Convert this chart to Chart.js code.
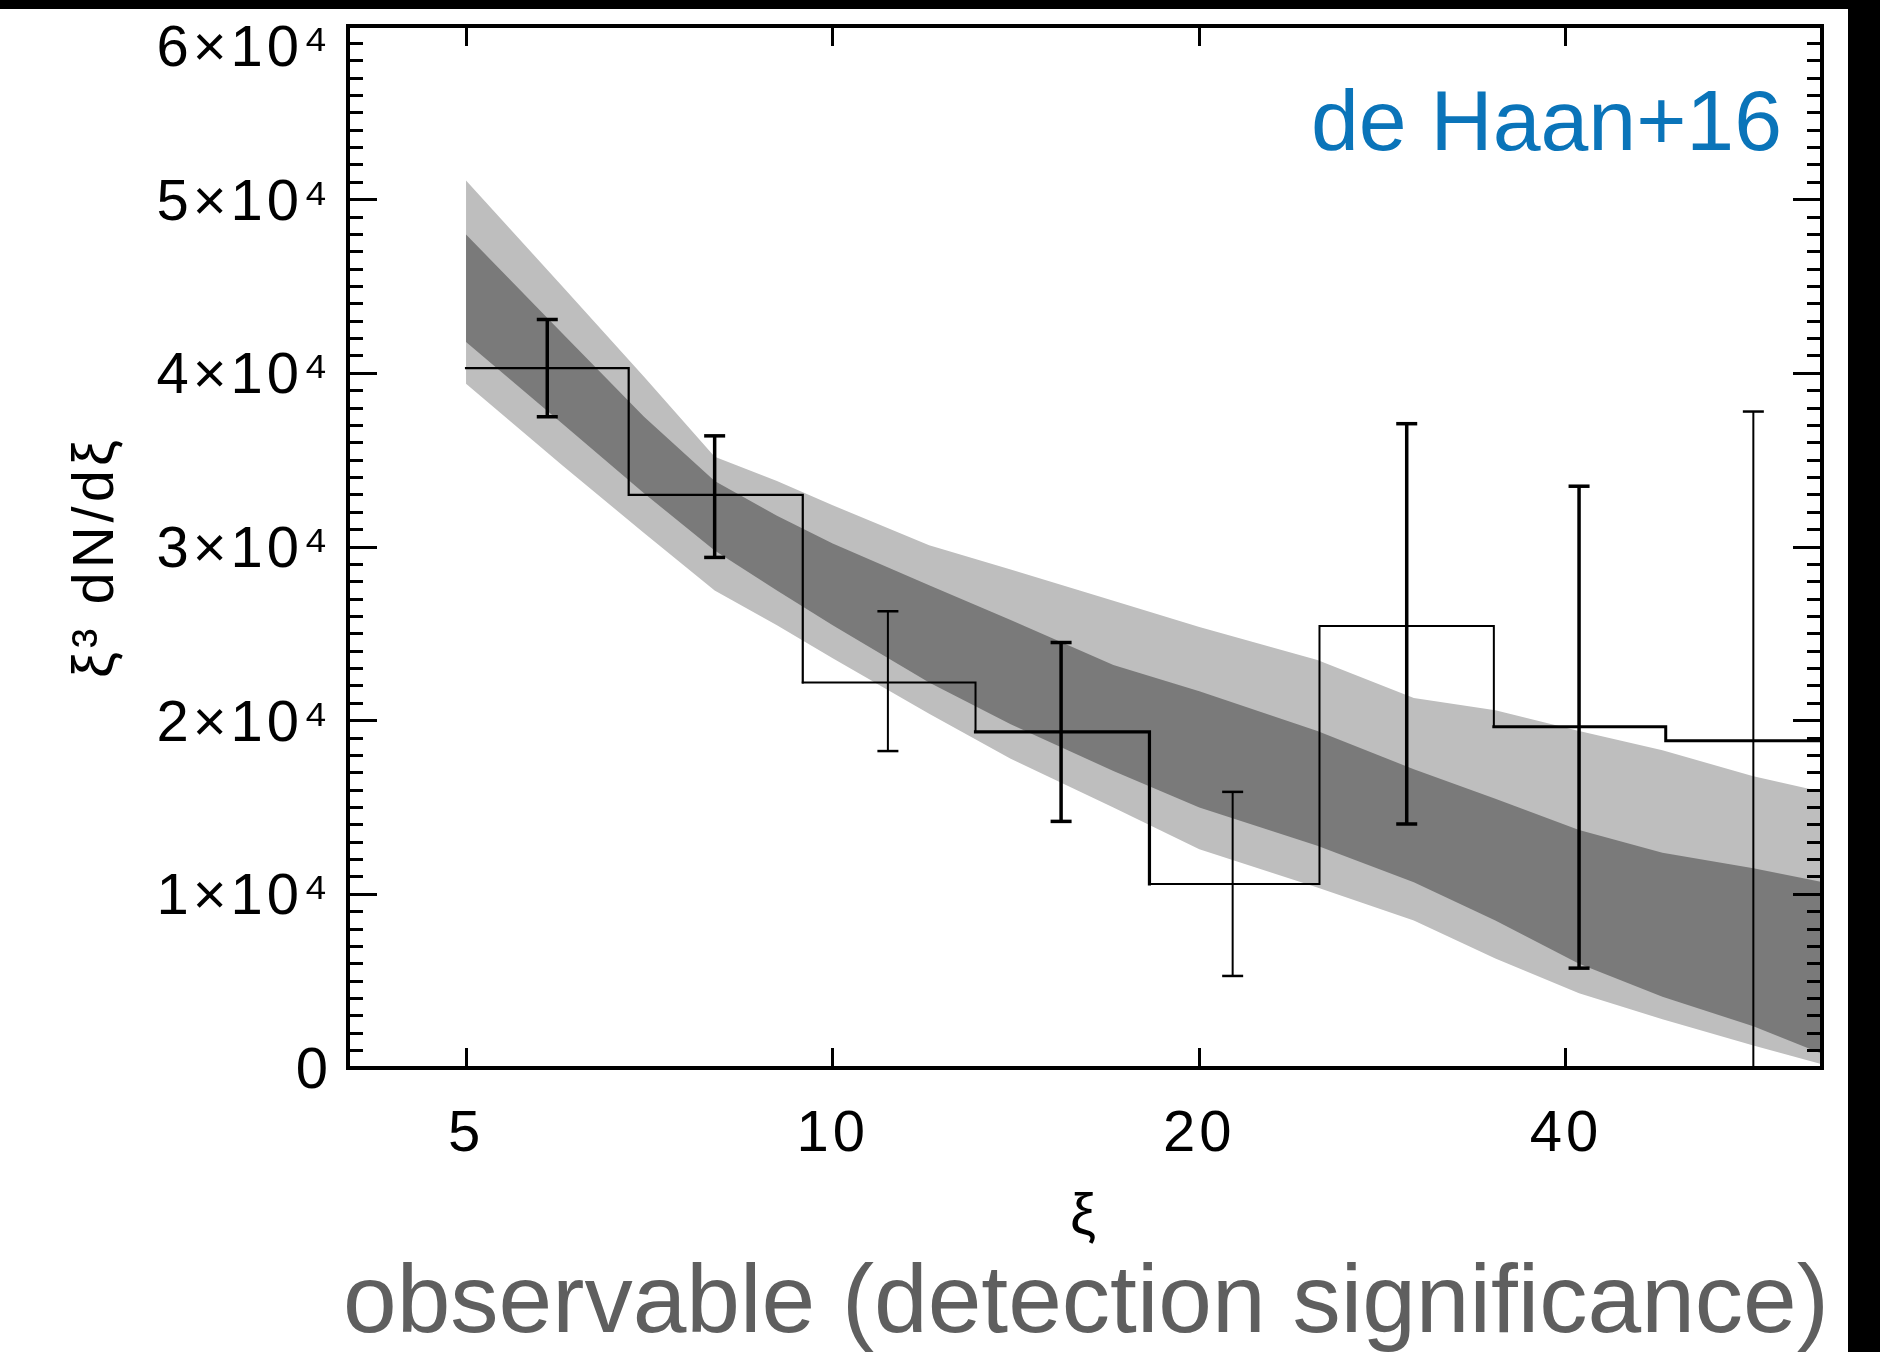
<!DOCTYPE html>
<html>
<head>
<meta charset="utf-8">
<script src="https://cdn.jsdelivr.net/npm/chart.js@4.4.1/dist/chart.umd.min.js"></script>
<style>
  html, body { margin: 0; padding: 0; background: #fff; }
  #wrap { width: 1880px; height: 1352px; }
</style>
</head>
<body>
<div id="wrap"><canvas id="xiChart" width="1880" height="1352"></canvas></div>
<script>
// histogram: bin edges in xi and measured xi^3 dN/dxi per bin
const binEdges = [5.0, 6.8, 9.45, 13.1, 18.2, 25.1, 34.9, 48.3, 66.0];
const binValues = [40300, 33000, 22200, 19350, 10600, 25450, 19650, 18850];

// error bars (one per bin)
const errXi = [5.83, 8.0, 11.1, 15.4, 21.3, 29.6, 41.0, 57.0];
const errLow = [37500, 29400, 18250, 14200, 5300, 14050, 5750, 0];
const errHigh = [43100, 36400, 26300, 24500, 15900, 37100, 33500, 37800];

// model prediction bands
const bandXi = [5, 6, 7, 8, 9, 10, 12, 14, 17, 20, 25, 30, 35, 41, 48, 57, 65];
const outerHigh = [51100, 45000, 39800, 35200, 33800, 32400, 30100, 28700, 26900, 25400, 23500, 21300, 20600, 19400, 18300, 16800, 15900];
const innerHigh = [48000, 42300, 37500, 33800, 31800, 30200, 27800, 25800, 23200, 21700, 19400, 17200, 15500, 13700, 12400, 11500, 10700];
const innerLow = [41800, 37100, 33100, 29800, 27500, 25500, 22200, 19800, 17100, 15000, 12800, 10700, 8500, 6000, 4100, 2400, 800];
const outerLow = [39400, 34700, 30800, 27500, 25500, 23600, 20400, 17800, 15000, 12600, 10400, 8500, 6300, 4300, 2800, 1300, 200];

// axis ticks
const xTicks = [5, 10, 20, 40];
const yTicks = [0, 10000, 20000, 30000, 40000, 50000, 60000];
const yMinorStep = 1000;

// line styles
const barThick = [true, true, false, true, false, true, true, false];
const stepWidths = [2.2, 2.2, 2, 3.2, 2, 2, 3, 3];

Chart.defaults.font.family = '"Liberation Sans", Arial, sans-serif';
Chart.defaults.color = '#000';

const yMinorTicks = [];
for (let v = yTicks[0]; v <= yTicks[yTicks.length - 1]; v += yMinorStep) yMinorTicks.push(v);
const yTop = yTicks[yTicks.length - 1];

const histData = binValues.map((v, i) => ({x: binEdges[i], y: v}));
histData.push({x: binEdges[binEdges.length - 1], y: binValues[binValues.length - 1]});

const errData = [];
errXi.forEach((x, i) => {
    errData.push({x: x, y: errLow[i]}, {x: x, y: errHigh[i]}, {x: x, y: null});
});

const band = arr => arr.map((v, i) => ({x: bandXi[i], y: v}));

const framePlugin = {
    id: 'frame',
    beforeDraw(chart) {
        const ctx = chart.ctx;
        ctx.save();
        ctx.fillStyle = '#fff';
        ctx.fillRect(0, 0, chart.width, chart.height);
        ctx.fillStyle = '#000';
        ctx.fillRect(0, 0, chart.width, 9);
        ctx.fillRect(1848, 0, chart.width - 1848, chart.height);
        ctx.restore();
        ctx.letterSpacing = '4px';
    },
    afterDraw(chart) {
        const ctx = chart.ctx;
        ctx.letterSpacing = '0px';
        ctx.save();
        ctx.textAlign = 'left';
        ctx.textBaseline = 'alphabetic';
        ctx.font = '86px "Liberation Sans", Arial, sans-serif';
        ctx.fillStyle = '#0a74b9';
        ctx.fillText('de Haan+16', 1311, 150);
        ctx.font = '96.5px "Liberation Sans", Arial, sans-serif';
        ctx.fillStyle = '#5f5f5f';
        ctx.fillText('observable (detection significance)', 343, 1332);
        ctx.restore();
    }
};

// fixed box sizes, no extra padding for overhanging labels
const fixWidth = w => s => { s.width = w; s.paddingTop = 0; s.paddingBottom = 0; s.paddingLeft = 0; s.paddingRight = 0; };
const fixHeight = h => s => { s.height = h; s.paddingTop = 0; s.paddingBottom = 0; s.paddingLeft = 0; s.paddingRight = 0; };

const tickGrid = len => ({drawOnChartArea: false, tickLength: len, tickWidth: 3, tickColor: '#000', z: 1});
const axisBorder = {display: true, color: '#000', width: 4, z: 2};

const config = {
    type: 'line',
    data: {
        datasets: [
            {
                label: 'errors',
                data: errData,
                order: 0,
                borderColor: '#000',
                borderWidth: 2,
                spanGaps: false,
                pointStyle: 'line',
                pointRadius: 10.5,
                pointBorderColor: '#000',
                pointBorderWidth: ctx => barThick[Math.floor(ctx.dataIndex / 3)] ? 3.5 : 2.5,
                segment: {
                    borderWidth: ctx => barThick[Math.floor(ctx.p0DataIndex / 3)] ? 3.5 : 2
                }
            },
            {
                label: 'histogram',
                data: histData,
                order: 1,
                stepped: true,
                borderColor: '#000',
                borderWidth: 2,
                borderCapStyle: 'square',
                pointRadius: 0,
                segment: {
                    borderWidth: ctx => stepWidths[ctx.p0DataIndex]
                }
            },
            {
                label: 'inner high',
                data: band(innerHigh),
                order: 2,
                borderColor: 'rgba(0,0,0,0)',
                borderWidth: 0,
                pointRadius: 0,
                backgroundColor: '#7a7a7a',
                fill: '+1'
            },
            {
                label: 'inner low',
                data: band(innerLow),
                order: 2,
                borderColor: 'rgba(0,0,0,0)',
                borderWidth: 0,
                pointRadius: 0,
                fill: false
            },
            {
                label: 'outer high',
                data: band(outerHigh),
                order: 3,
                borderColor: 'rgba(0,0,0,0)',
                borderWidth: 0,
                pointRadius: 0,
                backgroundColor: '#bebebe',
                fill: '+1'
            },
            {
                label: 'outer low',
                data: band(outerLow),
                order: 3,
                borderColor: 'rgba(0,0,0,0)',
                borderWidth: 0,
                pointRadius: 0,
                fill: false
            }
        ]
    },
    options: {
        responsive: false,
        animation: false,
        events: [],
        devicePixelRatio: 1,
        layout: {padding: 0, autoPadding: false},
        elements: {line: {tension: 0}},
        plugins: {
            legend: {display: false},
            tooltip: {enabled: false}
        },
        scales: {
            x: {
                type: 'logarithmic',
                position: 'bottom',
                min: 4.0,
                max: 64.9,
                afterBuildTicks: s => { s.ticks = xTicks.map(v => ({value: v})); },
                afterFit: fixHeight(284),
                ticks: {callback: v => String(v), font: {size: 58}, color: '#000', padding: 52, maxRotation: 0, autoSkip: false},
                grid: tickGrid(-20),
                border: axisBorder,
                title: {display: true, text: 'ξ', font: {size: 58}, color: '#000', padding: {top: 0, bottom: 99}}
            },
            xTop: {
                type: 'logarithmic',
                position: 'top',
                min: 4.0,
                max: 64.9,
                afterBuildTicks: s => { s.ticks = xTicks.map(v => ({value: v})); },
                afterFit: fixHeight(26),
                ticks: {display: false},
                grid: tickGrid(-20),
                border: axisBorder
            },
            y: {
                type: 'linear',
                position: 'left',
                weight: 1,
                min: 0,
                max: 60000,
                afterBuildTicks: s => { s.ticks = yTicks.map(v => ({value: v})); },
                afterFit: fixWidth(348),
                ticks: {
                    // the top label sits below its tick, as in the original plot
                    callback: v => {
                        const txt = v === 0 ? '0' : (v / 10000) + '×10⁴';
                        return v === yTop ? ['', txt] : txt;
                    },
                    font: c => c.tick && c.tick.value === yTop ? {size: 58, lineHeight: 0.69} : {size: 58},
                    color: '#000',
                    padding: 45,
                    labelOffset: 4,
                    autoSkip: false
                },
                grid: tickGrid(-29),
                border: axisBorder,
                title: {display: true, text: 'ξ³ dN/dξ ', font: {size: 58}, color: '#000', padding: {top: 62, bottom: 0}}
            },
            yMinor: {
                type: 'linear',
                position: 'left',
                weight: 0,
                min: 0,
                max: 60000,
                afterBuildTicks: s => { s.ticks = yMinorTicks.map(v => ({value: v})); },
                afterFit: fixWidth(0),
                ticks: {display: false},
                grid: tickGrid(-15),
                border: {display: false}
            },
            yRight: {
                type: 'linear',
                position: 'right',
                weight: 1,
                min: 0,
                max: 60000,
                afterBuildTicks: s => { s.ticks = yTicks.map(v => ({value: v})); },
                afterFit: fixWidth(58),
                ticks: {display: false},
                grid: tickGrid(-29),
                border: axisBorder
            },
            yRightMinor: {
                type: 'linear',
                position: 'right',
                weight: 0,
                min: 0,
                max: 60000,
                afterBuildTicks: s => { s.ticks = yMinorTicks.map(v => ({value: v})); },
                afterFit: fixWidth(0),
                ticks: {display: false},
                grid: tickGrid(-15),
                border: {display: false}
            }
        }
    },
    plugins: [framePlugin]
};

const xiChart = new Chart(document.getElementById('xiChart'), config);
</script>
</body>
</html>
